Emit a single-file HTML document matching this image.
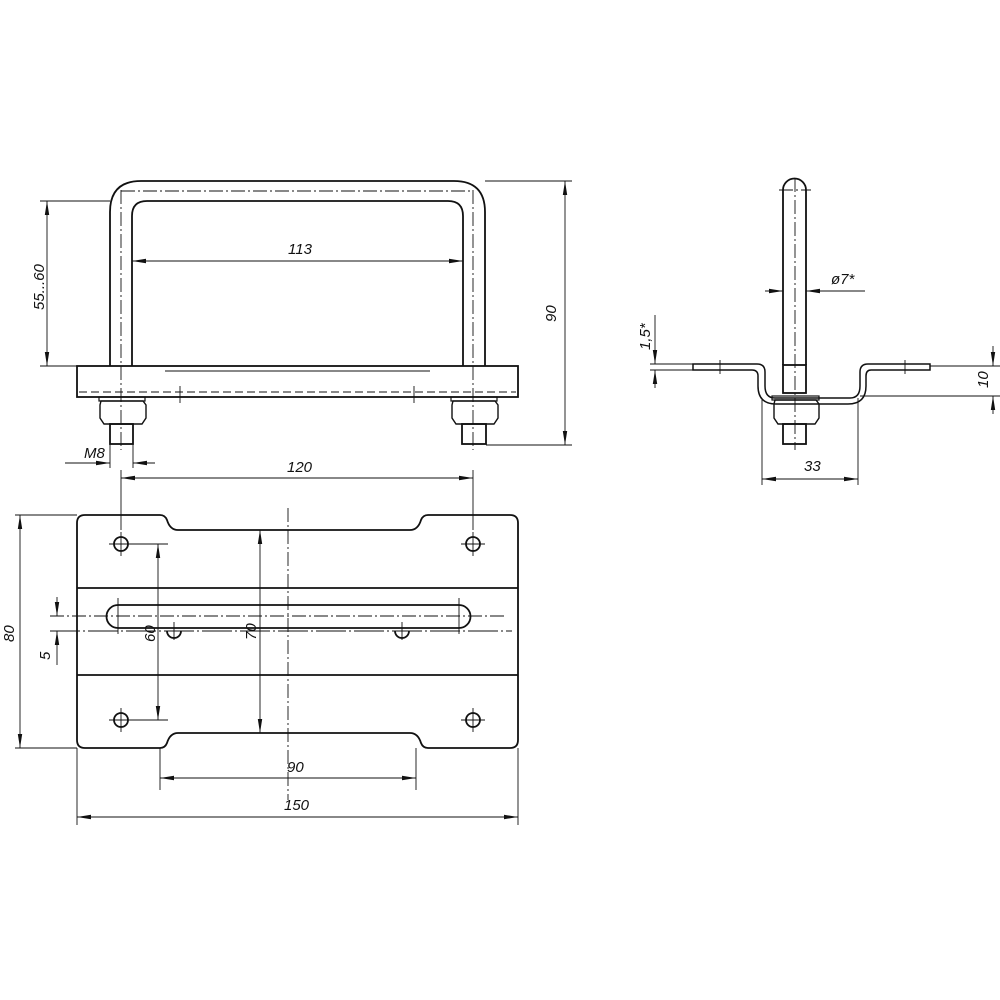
<!DOCTYPE html>
<html><head><meta charset="utf-8"><style>html,body{margin:0;padding:0;background:#fff}svg{display:block}
text{font-family:"Liberation Sans",sans-serif;font-style:italic;font-size:15px;fill:#111}</style></head><body>
<svg width="1000" height="1000" viewBox="0 0 1000 1000" xmlns="http://www.w3.org/2000/svg">
<defs>
<marker id="a" markerWidth="14" markerHeight="6" refX="14" refY="3" orient="auto-start-reverse" markerUnits="userSpaceOnUse"><path d="M0,0.8 L14,3 L0,5.2 Z" fill="#111"/></marker>
</defs>
<g fill="none" stroke="#111" stroke-width="1.8">
<!-- U bolt -->
<path d="M110,366 V212 Q110,181 141,181 H454 Q485,181 485,212 V366"/>
<path d="M132,366 V216 Q132,201 147,201 H448 Q463,201 463,216 V366"/>
<rect x="77" y="366" width="441" height="31"/>
<!-- nuts -->
<rect x="99" y="397" width="46" height="4" stroke-width="1.2"/>
<path d="M101,401 H143 L146,405 V418 L142,424 H104 L100,418 V405 Z" stroke-width="1.4"/>
<rect x="110" y="424" width="23" height="20"/>
<rect x="451" y="397" width="46" height="4" stroke-width="1.2"/>
<path d="M453,401 H495 L498,405 V418 L494,424 H456 L452,418 V405 Z" stroke-width="1.4"/>
<rect x="462" y="424" width="24" height="20"/>
<!-- plate -->
<path d="M85,515 H160 Q165,515 167,520 Q170,530 178,530 H410 Q418,530 421,520 Q423,515 428,515 H510 Q518,515 518,523 V740 Q518,748 510,748 H428 Q423,748 421,743 Q418,733 410,733 H178 Q170,733 167,743 Q165,748 160,748 H85 Q77,748 77,740 V523 Q77,515 85,515 Z"/>
<line x1="77" y1="588" x2="518" y2="588"/>
<line x1="77" y1="675" x2="518" y2="675"/>
<path d="M118,605 H459 A11.5,11.5 0 0 1 459,628 H118 A11.5,11.5 0 0 1 118,605 Z"/>
<circle cx="121" cy="544" r="7"/><circle cx="473" cy="544" r="7"/>
<circle cx="121" cy="720" r="7"/><circle cx="473" cy="720" r="7"/>
<path d="M167,631 A7,7 0 0 0 181,631"/><path d="M395,631 A7,7 0 0 0 409,631"/>
<!-- side view -->
<path d="M783,365 V190 A11.5,11.5 0 0 1 806,190 V365"/>
<rect x="783" y="365" width="23" height="28"/>
<path d="M693,364 H757 Q765,364 765,372 V386 Q765,398 775,398 H850 Q860,398 860,386 V372 Q860,364 868,364 H930 V370 H871 Q866,370 866,376 V386 Q866,404 848,404 H776 Q758,404 758,386 V376 Q758,370 752,370 H693 Z" stroke-width="1.5"/>
<rect x="772" y="396" width="47" height="4" stroke-width="1.2"/>
<path d="M775,400 H816 L819,404 V418 L815,424 H778 L774,418 V404 Z" stroke-width="1.4"/>
<rect x="783" y="424" width="23" height="20"/>
</g>
<g fill="none" stroke="#111" stroke-width="0.9">
<!-- centerlines -->
<path d="M121,190 V450 M473,190 V450 M121,191 H473 M795,178 V450 M779,190 H811" stroke-dasharray="14,3,2,3"/>
<path d="M79,392 H516" stroke-dasharray="8,4"/>
<path d="M180,386 V403 M414,386 V403 M720,360 V374 M905,360 V374"/>
<path d="M165,371 H430"/>
<path d="M288,508 V800" stroke-dasharray="14,3,2,3"/>
<path d="M50,616 H505" stroke-dasharray="14,3,2,3"/>
<path d="M50,631 H512" stroke-dasharray="30,3,2,3"/>
<path d="M121,532 V556 M109,544 H133 M473,532 V556 M461,544 H485 M121,708 V732 M109,720 H133 M473,708 V732 M461,720 H485 M174,622 V640 M402,622 V640 M118,598 V634 M459,598 V634"/>
<!-- extension lines -->
<path d="M40,201 H110 M40,366 H77 M485,181 H572 M486,445 H572 M110,444 V468 M133,444 V468 M121,470 V530 M473,470 V530 M121,544 H168 M121,720 H168 M15,515 H77 M15,748 H77 M160,748 V790 M416,748 V790 M77,748 V825 M518,748 V825 M650,364 H693 M650,370 H693 M930,366 H1000 M860,396 H1000 M762,400 V485 M858,398 V485 M820,291 H865"/>
<!-- dimension lines -->
<line x1="132" y1="261" x2="463" y2="261" marker-start="url(#a)" marker-end="url(#a)"/>
<line x1="47" y1="201" x2="47" y2="366" marker-start="url(#a)" marker-end="url(#a)"/>
<line x1="565" y1="181" x2="565" y2="445" marker-start="url(#a)" marker-end="url(#a)"/>
<line x1="65" y1="463" x2="110" y2="463" marker-end="url(#a)"/><line x1="155" y1="463" x2="133" y2="463" marker-end="url(#a)"/>
<line x1="121" y1="478" x2="473" y2="478" marker-start="url(#a)" marker-end="url(#a)"/>
<line x1="158" y1="544" x2="158" y2="720" marker-start="url(#a)" marker-end="url(#a)"/>
<line x1="260" y1="530" x2="260" y2="733" marker-start="url(#a)" marker-end="url(#a)"/>
<line x1="20" y1="515" x2="20" y2="748" marker-start="url(#a)" marker-end="url(#a)"/>
<line x1="57" y1="597" x2="57" y2="616" marker-end="url(#a)"/><line x1="57" y1="665" x2="57" y2="631" marker-end="url(#a)"/>
<line x1="160" y1="778" x2="416" y2="778" marker-start="url(#a)" marker-end="url(#a)"/>
<line x1="77" y1="817" x2="518" y2="817" marker-start="url(#a)" marker-end="url(#a)"/>
<line x1="765" y1="291" x2="783" y2="291" marker-end="url(#a)"/><line x1="820" y1="291" x2="806" y2="291" marker-end="url(#a)"/>
<line x1="655" y1="315" x2="655" y2="364" marker-end="url(#a)"/><line x1="655" y1="388" x2="655" y2="370" marker-end="url(#a)"/>
<line x1="993" y1="346" x2="993" y2="366" marker-end="url(#a)"/><line x1="993" y1="414" x2="993" y2="396" marker-end="url(#a)"/>
<line x1="762" y1="479" x2="858" y2="479" marker-start="url(#a)" marker-end="url(#a)"/>
</g>
<text x="288" y="254">113</text>
<text x="84" y="458" font-size="14">M8</text>
<text x="287" y="472">120</text>
<text x="287" y="772">90</text>
<text x="284" y="810">150</text>
<text x="831" y="284">ø7*</text>
<text x="804" y="471">33</text>
<text transform="translate(44,310) rotate(-90)">55...60</text>
<text transform="translate(556,322) rotate(-90)">90</text>
<text transform="translate(155,642) rotate(-90)">60</text>
<text transform="translate(256,640) rotate(-90)">70</text>
<text transform="translate(14,642) rotate(-90)">80</text>
<text transform="translate(50,660) rotate(-90)">5</text>
<text transform="translate(650,350) rotate(-90)">1,5*</text>
<text transform="translate(988,388) rotate(-90)">10</text>
</svg>
</body></html>
